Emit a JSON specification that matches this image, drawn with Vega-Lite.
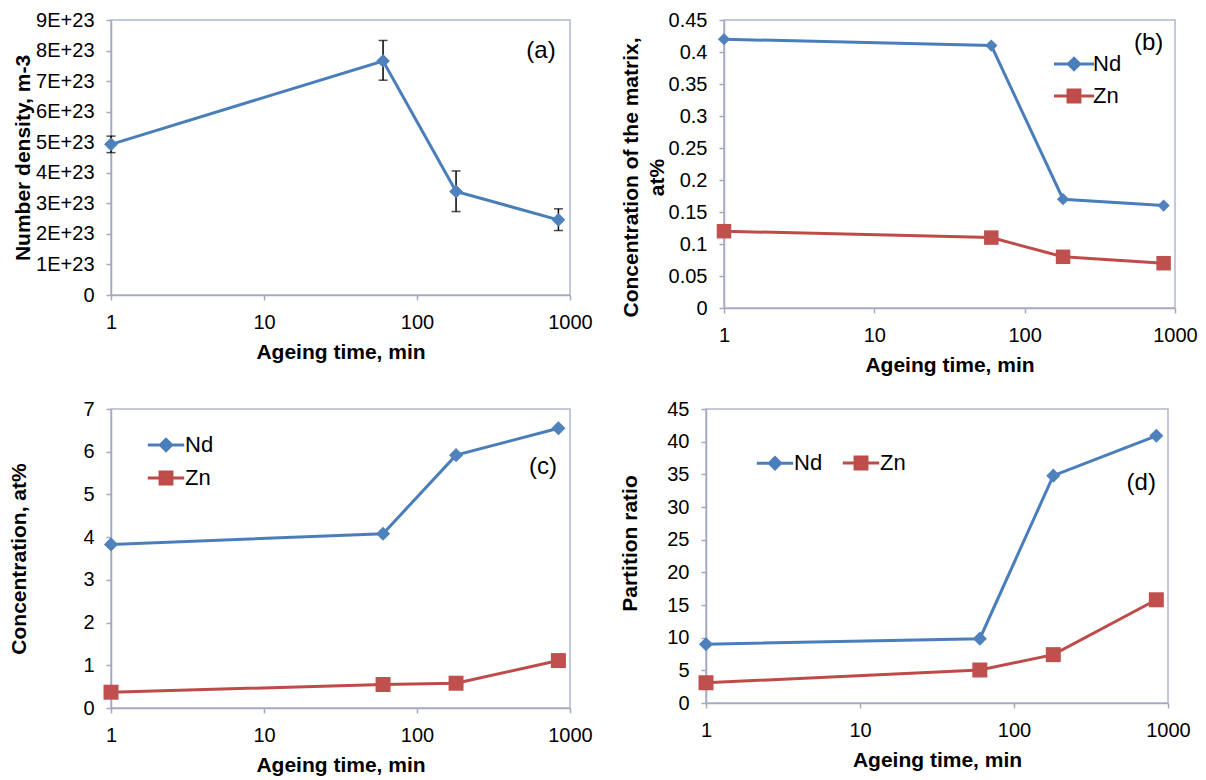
{
  "$schema": "https://vega.github.io/schema/vega-lite/v6.json",
  "background": "white",
  "padding": {"left": 8, "top": 9, "right": 5, "bottom": 5},
  "config": {
    "view": {"stroke": "#B2B7CF", "strokeWidth": 1.5},
    "axis": {
      "grid": false, "tickSize": 5, "labelPadding": 12,
      "labelFont": "Liberation Sans", "labelFontSize": 20, "labelColor": "black",
      "titleFont": "Liberation Sans", "titleFontSize": 21, "titleFontWeight": "bold", "titleColor": "black",
      "domainColor": "#A6A9BE", "tickColor": "#A6A9BE", "domainWidth": 1.5, "tickWidth": 1.5,
      "labelFlush": false, "labelOverlap": false
    },
    "axisX": {"titlePadding": 9},
    "legend": {"labelFont": "Liberation Sans", "labelFontSize": 22, "labelColor": "black", "title": null},
    "text": {"font": "Liberation Sans", "fontSize": 24, "color": "black"}
  },
  "columns": 2,
  "align": "none",
  "bounds": "full",
  "spacing": {"row": 22, "column": 26},
  "resolve": {
    "scale": {"color": "independent"},
    "legend": {"color": "independent"}
  },
  "concat": [
    {
      "width": 459, "height": 275,
      "data": {"values": [
        {"t": 1, "v": 4.93e23, "lo": 4.66e23, "hi": 5.2e23},
        {"t": 60, "v": 7.66e23, "lo": 7.03e23, "hi": 8.33e23},
        {"t": 180, "v": 3.39e23, "lo": 2.73e23, "hi": 4.06e23},
        {"t": 840, "v": 2.46e23, "lo": 2.11e23, "hi": 2.82e23}
      ]},
      "encoding": {
        "x": {"field": "t", "type": "quantitative", "scale": {"type": "log", "domain": [1, 1000], "nice": false}, "axis": {"values": [1, 10, 100, 1000], "format": "d", "labelOverlap": false, "title": "Ageing time, min"}},
        "y": {"field": "v", "type": "quantitative", "scale": {"domain": [0, 9e23], "nice": false}, "axis": {"values": [0, 1e23, 2e23, 3e23, 4e23, 5e23, 6e23, 7e23, 8e23, 9e23], "labelOverlap": false, "labelExpr": "datum.value == 0 ? '0' : round(datum.value / 1e23) + 'E+23'", "titlePadding": 2}, "title": "Number density, m-3"}
      },
      "layer": [
        {
          "mark": {"type": "errorbar", "ticks": {"size": 9, "color": "black"}, "color": "black", "thickness": 1.5},
          "encoding": {
            "y": {"field": "hi", "type": "quantitative", "scale": {"domain": [0, 9e23], "nice": false}, "axis": {"values": [0, 1e23, 2e23, 3e23, 4e23, 5e23, 6e23, 7e23, 8e23, 9e23], "labelOverlap": false, "labelExpr": "datum.value == 0 ? '0' : round(datum.value / 1e23) + 'E+23'", "titlePadding": 2}, "title": "Number density, m-3"},
            "y2": {"field": "lo"}
          }
        },
        {"mark": {"type": "line", "color": "#4A7EBB", "strokeWidth": 3}},
        {"mark": {"type": "point", "shape": "diamond", "filled": true, "size": 190, "color": "#4F81BD", "opacity": 1}},
        {
          "data": {"values": [{"t": 646, "v": 8.0e23, "label": "(a)"}]},
          "mark": {"type": "text"},
          "encoding": {"text": {"field": "label"}}
        }
      ]
    },
    {
      "width": 451, "height": 288,
      "data": {"values": [
        {"t": 1, "v": 0.42, "el": "Nd"},
        {"t": 60, "v": 0.41, "el": "Nd"},
        {"t": 180, "v": 0.17, "el": "Nd"},
        {"t": 840, "v": 0.16, "el": "Nd"},
        {"t": 1, "v": 0.12, "el": "Zn"},
        {"t": 60, "v": 0.11, "el": "Zn"},
        {"t": 180, "v": 0.08, "el": "Zn"},
        {"t": 840, "v": 0.07, "el": "Zn"}
      ]},
      "encoding": {
        "x": {"field": "t", "type": "quantitative", "scale": {"type": "log", "domain": [1, 1000], "nice": false}, "axis": {"values": [1, 10, 100, 1000], "format": "d", "labelOverlap": false, "title": "Ageing time, min"}},
        "y": {"field": "v", "type": "quantitative", "scale": {"domain": [0, 0.45], "nice": false}, "axis": {"values": [0, 0.05, 0.1, 0.15, 0.2, 0.25, 0.3, 0.35, 0.4, 0.45], "labelOverlap": false, "format": "~g", "titlePadding": 1, "titleY": 157, "titleLineHeight": 26}, "title": ["Concentration of the matrix,", "at%"]}
      },
      "layer": [
        {
          "mark": {"type": "line", "strokeWidth": 3},
          "encoding": {
            "color": {"field": "el", "type": "nominal", "scale": {"domain": ["Nd", "Zn"], "range": ["#4A7EBB", "#BE4B48"]},
              "legend": {"orient": "none", "legendX": 339, "legendY": 33, "direction": "vertical", "labelOffset": 8, "rowPadding": 8, "symbolSize": 196,
                "encode": {"symbols": {"update": {
                  "shape": {"signal": "datum.value == 'Nd' ? 'M-2.86,0H2.86M0,-0.8L0.8,0L0,0.8L-0.8,0Z' : 'M-2.86,0H2.86M-0.85,-0.85H0.85V0.85H-0.85Z'"},
                  "fill": {"signal": "datum.value == 'Nd' ? '#4F81BD' : '#C0504D'"},
                  "stroke": {"signal": "datum.value == 'Nd' ? '#4A7EBB' : '#BE4B48'"},
                  "strokeWidth": {"value": 3}, "opacity": {"value": 1}}}}}}
          }
        },
        {
          "transform": [{"filter": "datum.el == 'Nd'"}],
          "mark": {"type": "point", "shape": "diamond", "filled": true, "size": 150, "color": "#4F81BD", "opacity": 1}
        },
        {
          "transform": [{"filter": "datum.el == 'Zn'"}],
          "mark": {"type": "point", "shape": "square", "filled": true, "size": 210, "color": "#C0504D", "opacity": 1}
        },
        {
          "data": {"values": [{"t": 668, "v": 0.4145, "label": "(b)"}]},
          "mark": {"type": "text"},
          "encoding": {"text": {"field": "label"}}
        }
      ]
    },
    {
      "width": 459, "height": 299,
      "data": {"values": [
        {"t": 1, "v": 3.83, "el": "Nd"},
        {"t": 60, "v": 4.08, "el": "Nd"},
        {"t": 180, "v": 5.92, "el": "Nd"},
        {"t": 840, "v": 6.55, "el": "Nd"},
        {"t": 1, "v": 0.37, "el": "Zn"},
        {"t": 60, "v": 0.55, "el": "Zn"},
        {"t": 180, "v": 0.58, "el": "Zn"},
        {"t": 840, "v": 1.11, "el": "Zn"}
      ]},
      "encoding": {
        "x": {"field": "t", "type": "quantitative", "scale": {"type": "log", "domain": [1, 1000], "nice": false}, "axis": {"values": [1, 10, 100, 1000], "format": "d", "labelOverlap": false, "title": "Ageing time, min"}},
        "y": {"field": "v", "type": "quantitative", "scale": {"domain": [0, 7], "nice": false}, "axis": {"values": [0, 1, 2, 3, 4, 5, 6, 7], "labelOverlap": false, "titlePadding": 53}, "title": "Concentration, at%"}
      },
      "layer": [
        {
          "mark": {"type": "line", "strokeWidth": 3},
          "encoding": {
            "color": {"field": "el", "type": "nominal", "scale": {"domain": ["Nd", "Zn"], "range": ["#4A7EBB", "#BE4B48"]},
              "legend": {"orient": "none", "legendX": 44, "legendY": 25, "direction": "vertical", "labelOffset": 8, "rowPadding": 9, "symbolSize": 196,
                "encode": {"symbols": {"update": {
                  "shape": {"signal": "datum.value == 'Nd' ? 'M-2.6,0H2.6M0,-0.8L0.8,0L0,0.8L-0.8,0Z' : 'M-2.6,0H2.6M-0.85,-0.85H0.85V0.85H-0.85Z'"},
                  "fill": {"signal": "datum.value == 'Nd' ? '#4F81BD' : '#C0504D'"},
                  "stroke": {"signal": "datum.value == 'Nd' ? '#4A7EBB' : '#BE4B48'"},
                  "strokeWidth": {"value": 3}, "opacity": {"value": 1}}}}}}
          }
        },
        {
          "transform": [{"filter": "datum.el == 'Nd'"}],
          "mark": {"type": "point", "shape": "diamond", "filled": true, "size": 200, "color": "#4F81BD", "opacity": 1}
        },
        {
          "transform": [{"filter": "datum.el == 'Zn'"}],
          "mark": {"type": "point", "shape": "square", "filled": true, "size": 225, "color": "#C0504D", "opacity": 1}
        },
        {
          "data": {"values": [{"t": 666, "v": 5.65, "label": "(c)"}]},
          "mark": {"type": "text"},
          "encoding": {"text": {"field": "label"}}
        }
      ]
    },
    {
      "width": 462, "height": 294,
      "data": {"values": [
        {"t": 1, "v": 9.0, "el": "Nd"},
        {"t": 60, "v": 9.85, "el": "Nd"},
        {"t": 180, "v": 34.8, "el": "Nd"},
        {"t": 840, "v": 40.9, "el": "Nd"},
        {"t": 1, "v": 3.1, "el": "Zn"},
        {"t": 60, "v": 5.05, "el": "Zn"},
        {"t": 180, "v": 7.4, "el": "Zn"},
        {"t": 840, "v": 15.8, "el": "Zn"}
      ]},
      "encoding": {
        "x": {"field": "t", "type": "quantitative", "scale": {"type": "log", "domain": [1, 1000], "nice": false}, "axis": {"values": [1, 10, 100, 1000], "format": "d", "labelOverlap": false, "title": "Ageing time, min"}},
        "y": {"field": "v", "type": "quantitative", "scale": {"domain": [0, 45], "nice": false}, "axis": {"values": [0, 5, 10, 15, 20, 25, 30, 35, 40, 45], "labelOverlap": false, "titlePadding": 26, "titleY": 134}, "title": "Partition ratio"}
      },
      "layer": [
        {
          "mark": {"type": "line", "strokeWidth": 3},
          "encoding": {
            "color": {"field": "el", "type": "nominal", "scale": {"domain": ["Nd", "Zn"], "range": ["#4A7EBB", "#BE4B48"]},
              "legend": {"orient": "none", "legendX": 58, "legendY": 43, "direction": "horizontal", "labelOffset": 8, "columnPadding": 13, "symbolSize": 196,
                "encode": {"symbols": {"update": {
                  "shape": {"signal": "datum.value == 'Nd' ? 'M-2.6,0H2.6M0,-0.8L0.8,0L0,0.8L-0.8,0Z' : 'M-2.6,0H2.6M-0.85,-0.85H0.85V0.85H-0.85Z'"},
                  "fill": {"signal": "datum.value == 'Nd' ? '#4F81BD' : '#C0504D'"},
                  "stroke": {"signal": "datum.value == 'Nd' ? '#4A7EBB' : '#BE4B48'"},
                  "strokeWidth": {"value": 3}, "opacity": {"value": 1}}}}}}
          }
        },
        {
          "transform": [{"filter": "datum.el == 'Nd'"}],
          "mark": {"type": "point", "shape": "diamond", "filled": true, "size": 200, "color": "#4F81BD", "opacity": 1}
        },
        {
          "transform": [{"filter": "datum.el == 'Zn'"}],
          "mark": {"type": "point", "shape": "square", "filled": true, "size": 225, "color": "#C0504D", "opacity": 1}
        },
        {
          "data": {"values": [{"t": 670, "v": 33.67, "label": "(d)"}]},
          "mark": {"type": "text"},
          "encoding": {"text": {"field": "label"}}
        }
      ]
    }
  ]
}
